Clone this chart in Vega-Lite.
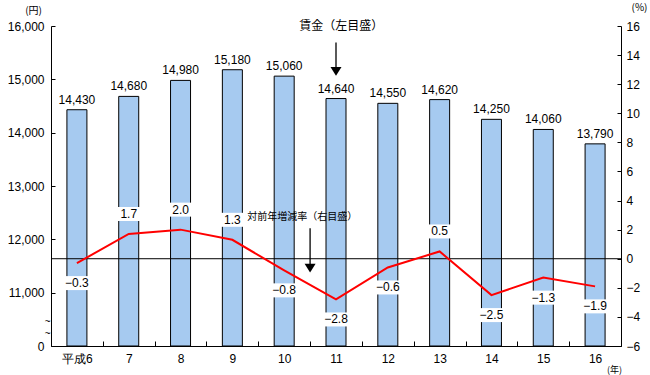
{
  "$schema": "https://vega.github.io/schema/vega-lite/v6.json",
  "width": 570,
  "height": 320,
  "autosize": {"type": "none"},
  "padding": {"left": 51, "top": 26, "right": 29, "bottom": 29},
  "background": "white",
  "config": {
    "view": {"stroke": null},
    "font": "Noto Sans CJK JP",
    "axis": {
      "grid": false,
      "domainColor": "black",
      "domainWidth": 1,
      "tickColor": "black",
      "tickWidth": 1,
      "labelColor": "black",
      "titleColor": "black",
      "labelFont": "Liberation Sans",
      "labelFontSize": 12,
      "titleFont": "Noto Sans CJK JP",
      "titleFontSize": 10,
      "titleFontWeight": "normal",
      "labelFlush": false,
      "labelBound": false
    }
  },
  "data": {
    "values": [
      {"year": "平成6", "wage": 14430, "change": -0.3},
      {"year": "7", "wage": 14680, "change": 1.7},
      {"year": "8", "wage": 14980, "change": 2.0},
      {"year": "9", "wage": 15180, "change": 1.3},
      {"year": "10", "wage": 15060, "change": -0.8},
      {"year": "11", "wage": 14640, "change": -2.8},
      {"year": "12", "wage": 14550, "change": -0.6},
      {"year": "13", "wage": 14620, "change": 0.5},
      {"year": "14", "wage": 14250, "change": -2.5},
      {"year": "15", "wage": 14060, "change": -1.3},
      {"year": "16", "wage": 13790, "change": -1.9}
    ]
  },
  "layer": [
    {
      "layer": [
        {
          "mark": {"type": "bar", "fill": "#a6caf0", "stroke": "black", "strokeWidth": 1, "width": 20},
          "encoding": {
            "x": {
              "field": "year", "type": "nominal", "sort": null,
              "scale": {"paddingInner": 0, "paddingOuter": 0},
              "axis": {
                "orient": "bottom",
                "tickBand": "extent",
                "tickSize": -5,
                "labelPadding": 12,
                "labelAngle": 0,
                "labelOverlap": false,
                "title": "(年)",
                "titleAngle": 0,
                "titleX": 563,
                "titleY": 23,
                "titleFontSize": 9,
                "titleAlign": "center",
                "titleBaseline": "middle"
              }
            },
            "y": {
              "field": "wage", "type": "quantitative",
              "scale": {"domain": [10000, 16000], "nice": false, "zero": false},
              "axis": {
                "orient": "left",
                "values": [10000, 10230, 10460, 11000, 12000, 13000, 14000, 15000, 16000],
                "tickCount": 50,
                "labelExpr": "datum.value == 10000 ? '0' : (datum.value < 11000 ? '~' : format(datum.value, ','))",
                "labelOverlap": false,
                "tickSize": -4,
                "tickOpacity": {"condition": {"test": "datum.value > 10000 && datum.value < 11000", "value": 0}, "value": 1},
                "labelPadding": {"condition": {"test": "datum.value > 10000 && datum.value < 11000", "value": 5}, "value": 11},
                "labelFontSize": {"condition": {"test": "datum.value > 10000 && datum.value < 11000", "value": 10}, "value": 12},
                "title": "(円)",
                "titleAngle": 0,
                "titleX": -18,
                "titleY": -16,
                "titleAlign": "center",
                "titleBaseline": "middle"
              }
            },
            "y2": {"datum": 10000}
          }
        },
        {
          "mark": {"type": "text", "baseline": "alphabetic", "dy": -6, "font": "Liberation Sans", "fontSize": 12, "color": "black"},
          "encoding": {
            "x": {"field": "year", "type": "nominal", "sort": null},
            "y": {"field": "wage", "type": "quantitative"},
            "text": {"field": "wage", "type": "quantitative", "format": ","}
          }
        },
        {
          "data": {"values": [{"label": "賃金（左目盛）"}]},
          "mark": {"type": "rule", "color": "black", "strokeWidth": 1.3},
          "encoding": {
            "x": {"datum": "11", "bandPosition": 0.5},
            "y": {"datum": 15690},
            "y2": {"datum": 15150}
          }
        },
        {
          "data": {"values": [{"label": "賃金（左目盛）"}]},
          "mark": {"type": "point", "shape": "M-1,-0.8L1,-0.8L0,0.8Z", "size": 121, "filled": true, "color": "black", "opacity": 1},
          "encoding": {
            "x": {"datum": "11", "bandPosition": 0.5},
            "y": {"datum": 15150}
          }
        },
        {
          "data": {"values": [{"label": "賃金（左目盛）"}]},
          "mark": {"type": "text", "fontSize": 12, "baseline": "middle", "color": "black"},
          "encoding": {
            "x": {"datum": "11", "bandPosition": 0.6},
            "y": {"datum": 16000},
            "text": {"field": "label"}
          }
        }
      ]
    },
    {
      "layer": [
        {
          "data": {"values": [{"v": 0}]},
          "mark": {"type": "rule", "color": "black", "strokeWidth": 1},
          "encoding": {
            "y": {
              "field": "v", "type": "quantitative",
              "scale": {"domain": [-6, 16], "nice": false, "zero": false},
              "axis": {
                "orient": "right",
                "values": [-6, -4, -2, 0, 2, 4, 6, 8, 10, 12, 14, 16],
                "tickCount": 50,
                "format": "d",
                "labelOverlap": false,
                "tickSize": -4,
                "labelPadding": 9,
                "title": "(%)",
                "titleAngle": 0,
                "titleX": 18,
                "titleY": -19,
                "titleAlign": "center",
                "titleBaseline": "middle"
              }
            }
          }
        },
        {
          "mark": {"type": "line", "color": "#ff0000", "strokeWidth": 2},
          "encoding": {
            "x": {"field": "year", "type": "nominal", "sort": null},
            "y": {"field": "change", "type": "quantitative"}
          }
        },
        {
          "transform": [{"filter": "datum.change >= 0"}],
          "mark": {"type": "point", "shape": "M-1.2,-2.7L1.2,-2.7L1.2,-1.3L-1.2,-1.3Z", "size": 400, "filled": true, "color": "white", "opacity": 1},
          "encoding": {
            "x": {"field": "year", "type": "nominal", "sort": null},
            "y": {"field": "change", "type": "quantitative"}
          }
        },
        {
          "transform": [{"filter": "datum.change < 0"}],
          "mark": {"type": "point", "shape": "M-1.2,1.3L1.2,1.3L1.2,2.7L-1.2,2.7Z", "size": 400, "filled": true, "color": "white", "opacity": 1},
          "encoding": {
            "x": {"field": "year", "type": "nominal", "sort": null},
            "y": {"field": "change", "type": "quantitative"}
          }
        },
        {
          "transform": [{"filter": "datum.change >= 0"}],
          "mark": {"type": "text", "baseline": "middle", "dy": -20, "font": "Liberation Sans", "fontSize": 12, "color": "black"},
          "encoding": {
            "x": {"field": "year", "type": "nominal", "sort": null},
            "y": {"field": "change", "type": "quantitative"},
            "text": {"field": "change", "type": "quantitative", "format": ".1f"}
          }
        },
        {
          "transform": [{"filter": "datum.change < 0"}],
          "mark": {"type": "text", "baseline": "middle", "dy": 20, "font": "Liberation Sans", "fontSize": 12, "color": "black"},
          "encoding": {
            "x": {"field": "year", "type": "nominal", "sort": null},
            "y": {"field": "change", "type": "quantitative"},
            "text": {"field": "change", "type": "quantitative", "format": ".1f"}
          }
        },
        {
          "data": {"values": [{"label": "対前年増減率（右目盛）"}]},
          "mark": {"type": "rule", "color": "black", "strokeWidth": 1.3},
          "encoding": {
            "x": {"datum": "10", "bandPosition": 1},
            "y": {"datum": 2.1},
            "y2": {"datum": -0.64}
          }
        },
        {
          "data": {"values": [{"label": "対前年増減率（右目盛）"}]},
          "mark": {"type": "point", "shape": "M-1,-0.8L1,-0.8L0,0.8Z", "size": 121, "filled": true, "color": "black", "opacity": 1},
          "encoding": {
            "x": {"datum": "10", "bandPosition": 1},
            "y": {"datum": -0.64}
          }
        },
        {
          "data": {"values": [{"label": "対前年増減率（右目盛）"}]},
          "mark": {"type": "text", "fontSize": 10, "baseline": "middle", "color": "black"},
          "encoding": {
            "x": {"datum": "10", "bandPosition": 0.85},
            "y": {"datum": 2.89},
            "text": {"field": "label"}
          }
        }
      ]
    }
  ],
  "resolve": {"scale": {"y": "independent"}}
}
